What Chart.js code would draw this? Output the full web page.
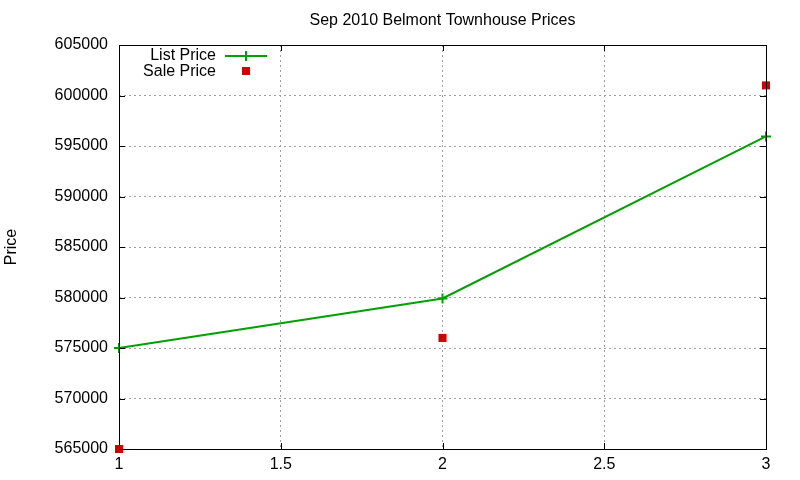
<!DOCTYPE html>
<html>
<head>
<meta charset="utf-8">
<script src="https://cdn.jsdelivr.net/npm/chart.js@4/dist/chart.umd.min.js"></script>
<style>
html,body{margin:0;padding:0;background:#fff;}
#wrap{width:800px;height:480px;}
</style>
</head>
<body>
<div id="wrap"><canvas id="c" width="800" height="480"></canvas></div>
<script>
const titleText = "Sep 2010 Belmont Townhouse Prices";
const yAxisTitle = "Price";
const xValues = [1, 2, 3];
const listPrice = [575000, 579900, 595950];
const salePrice = [565000, 576000, 601000];
const seriesNames = ["List Price", "Sale Price"];
const yMin = 565000, yMax = 605000, yStep = 5000;
const xMin = 1, xMax = 3, xStep = 0.5;

const GREEN = "#00a000";
const RED = "#d00000";
const FONT = "'Liberation Sans', Arial, sans-serif";

const overlay = {
  id: "overlay",
  afterDraw(chart) {
    const ctx = chart.ctx;
    const a = chart.chartArea;
    const xs = chart.scales.x, ys = chart.scales.y;
    ctx.save();
    ctx.strokeStyle = "#000";
    ctx.lineWidth = 1;
    ctx.setLineDash([]);
    ctx.strokeRect(Math.round(a.left) + 0.5, Math.round(a.top) + 0.5, Math.round(a.right - a.left), Math.round(a.bottom - a.top));
    ctx.beginPath();
    ys.ticks.forEach(t => {
      const y = Math.round(ys.getPixelForValue(t.value)) + 0.5;
      ctx.moveTo(a.left, y); ctx.lineTo(a.left + 6, y);
      ctx.moveTo(a.right, y); ctx.lineTo(a.right - 6, y);
    });
    xs.ticks.forEach(t => {
      const x = Math.round(xs.getPixelForValue(t.value)) + 0.5;
      ctx.moveTo(x, a.bottom); ctx.lineTo(x, a.bottom - 6);
      ctx.moveTo(x, a.top); ctx.lineTo(x, a.top + 6);
    });
    ctx.stroke();
    ctx.fillStyle = "#000";
    ctx.font = "16px " + FONT;
    ctx.textAlign = "center";
    ctx.textBaseline = "middle";
    ctx.fillText(titleText, (a.left + a.right) / 2, 21);
    ctx.save();
    ctx.translate(12, (a.top + a.bottom) / 2);
    ctx.rotate(-Math.PI / 2);
    ctx.font = "16px " + FONT;
    ctx.fillText(yAxisTitle, 0, 0);
    ctx.restore();
    ctx.font = "16px " + FONT;
    ctx.textAlign = "right";
    ctx.fillText(seriesNames[0], 216, 56);
    ctx.fillText(seriesNames[1], 216, 72);
    ctx.strokeStyle = GREEN;
    ctx.lineWidth = 2;
    ctx.beginPath();
    ctx.moveTo(225, 56); ctx.lineTo(267, 56);
    ctx.moveTo(246, 51); ctx.lineTo(246, 61);
    ctx.stroke();
    ctx.fillStyle = RED;
    ctx.fillRect(242, 67, 8, 8);
    ctx.restore();
  }
};

new Chart(document.getElementById("c"), {
  type: "scatter",
  data: {
    datasets: [
      {
        label: seriesNames[0],
        data: xValues.map((x, i) => ({x: x, y: listPrice[i]})),
        showLine: true,
        borderColor: GREEN,
        backgroundColor: GREEN,
        borderWidth: 2,
        pointStyle: "cross",
        pointRadius: 5,
        pointBorderWidth: 2,
        pointBorderColor: GREEN,
        clip: 8,
        order: 1
      },
      {
        label: seriesNames[1],
        data: xValues.map((x, i) => ({x: x, y: salePrice[i]})),
        showLine: false,
        borderColor: RED,
        backgroundColor: RED,
        pointStyle: "rect",
        pointRadius: 5.7,
        pointBorderWidth: 0,
        clip: 8,
        order: 0
      }
    ]
  },
  options: {
    responsive: false,
    animation: false,
    devicePixelRatio: 1,
    layout: {padding: {left: 0, right: 34, top: 45, bottom: 0}},
    plugins: {legend: {display: false}, title: {display: false}, tooltip: {enabled: false}},
    scales: {
      x: {
        type: "linear",
        min: xMin, max: xMax,
        afterFit(s) { s.height = 31; },
        ticks: {stepSize: xStep, color: "#000", font: {family: FONT, size: 16}, padding: 6, maxRotation: 0,
          callback: v => String(v)},
        grid: {color: "#a0a0a0", lineWidth: 1, drawTicks: false},
        border: {display: false, dash: [2, 3]}
      },
      y: {
        min: yMin, max: yMax,
        afterFit(s) { s.width = 119; },
        ticks: {stepSize: yStep, color: "#000", font: {family: FONT, size: 16}, padding: 11,
          callback: v => String(v)},
        grid: {color: "#a0a0a0", lineWidth: 1, drawTicks: false},
        border: {display: false, dash: [2, 3]}
      }
    }
  },
  plugins: [overlay]
});
</script>
</body>
</html>
